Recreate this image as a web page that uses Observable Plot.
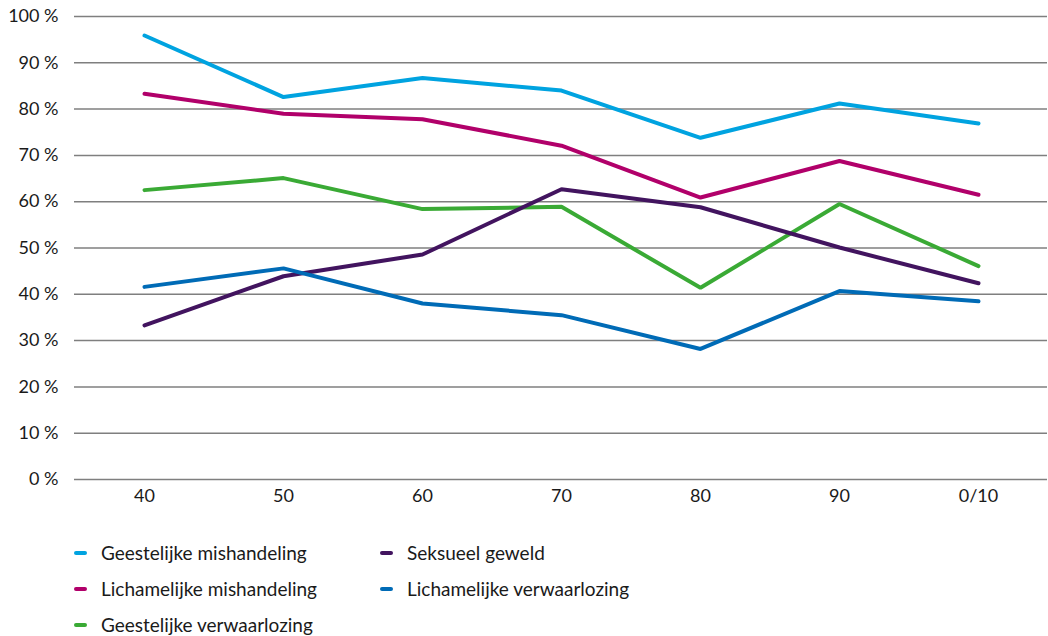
<!DOCTYPE html>
<html>
<head>
<meta charset="utf-8">
<script src="https://cdn.jsdelivr.net/npm/d3@7"></script>
<script src="https://cdn.jsdelivr.net/npm/@observablehq/plot@0.6"></script>
<style>
  html, body { margin: 0; padding: 0; background: #fff; }
  body { width: 1048px; height: 636px; overflow: hidden; font-family: Lato, "Open Sans", sans-serif; color: #1a1a1a; }
  #legend { display: grid; grid-template-columns: 306px 400px; grid-template-rows: repeat(3, 36px); grid-auto-flow: column; padding-left: 74px; padding-top: 15px; font-size: 19px; line-height: 22px; }
  .item { display: flex; align-items: center; }
  .sw { width: 13px; height: 4px; border-radius: 2px; margin-right: 14px; flex: none; }
</style>
</head>
<body>
<div id="chart"></div>
<div id="legend"></div>
<script>
const periods = ["40", "50", "60", "70", "80", "90", "0/10"];
const seriesNames = [
  "Geestelijke mishandeling",
  "Lichamelijke mishandeling",
  "Geestelijke verwaarlozing",
  "Seksueel geweld",
  "Lichamelijke verwaarlozing"
];
const geestelijkeMishandeling = [95.9, 82.6, 86.7, 84.0, 73.8, 81.2, 76.9];
const lichamelijkeMishandeling = [83.3, 79.0, 77.8, 72.1, 60.9, 68.8, 61.5];
const geestelijkeVerwaarlozing = [62.5, 65.1, 58.4, 58.9, 41.4, 59.5, 46.1];
const seksueelGeweld = [33.3, 43.9, 48.6, 62.7, 58.8, 50.1, 42.4];
const lichamelijkeVerwaarlozing = [41.6, 45.6, 38.0, 35.5, 28.2, 40.7, 38.5];
const yTicks = [0, 10, 20, 30, 40, 50, 60, 70, 80, 90, 100];
const colors = ["#00a3e0", "#b1006a", "#3aaa35", "#42145f", "#006bb6"];

const allValues = [geestelijkeMishandeling, lichamelijkeMishandeling, geestelijkeVerwaarlozing, seksueelGeweld, lichamelijkeVerwaarlozing];
const data = [];
seriesNames.forEach((s, i) => periods.forEach((p, j) => data.push({series: s, period: p, value: allValues[i][j]})));

const chart = Plot.plot({
  width: 1048,
  height: 520,
  marginLeft: 74,
  marginRight: 1,
  marginTop: 16,
  marginBottom: 41,
  style: {fontFamily: "Lato, 'Open Sans', sans-serif", fontSize: "18px", color: "#1a1a1a", background: "#fff"},
  x: {type: "point", domain: periods, padding: 0.5, label: null},
  y: {domain: [0, 100], label: null},
  color: {domain: seriesNames, range: colors},
  marks: [
    Plot.ruleY(yTicks, {stroke: "#7f7f7f", strokeWidth: 1.5}),
    Plot.axisY(yTicks, {tickSize: 0, tickPadding: 16, tickFormat: d => d + " %", fill: "#1a1a1a", fontSize: 18}),
    Plot.axisX({tickSize: 0, tickPadding: 10, fill: "#1a1a1a", fontSize: 18}),
    Plot.line(data, {x: "period", y: "value", z: "series", stroke: "series", strokeWidth: 4, strokeLinecap: "round", strokeLinejoin: "miter"})
  ]
});
document.getElementById("chart").appendChild(chart);

const legend = document.getElementById("legend");
seriesNames.forEach((s, i) => {
  const it = document.createElement("div");
  it.className = "item";
  it.innerHTML = `<span class="sw" style="background:${colors[i]}"></span><span>${s}</span>`;
  legend.appendChild(it);
});
</script>
</body>
</html>
